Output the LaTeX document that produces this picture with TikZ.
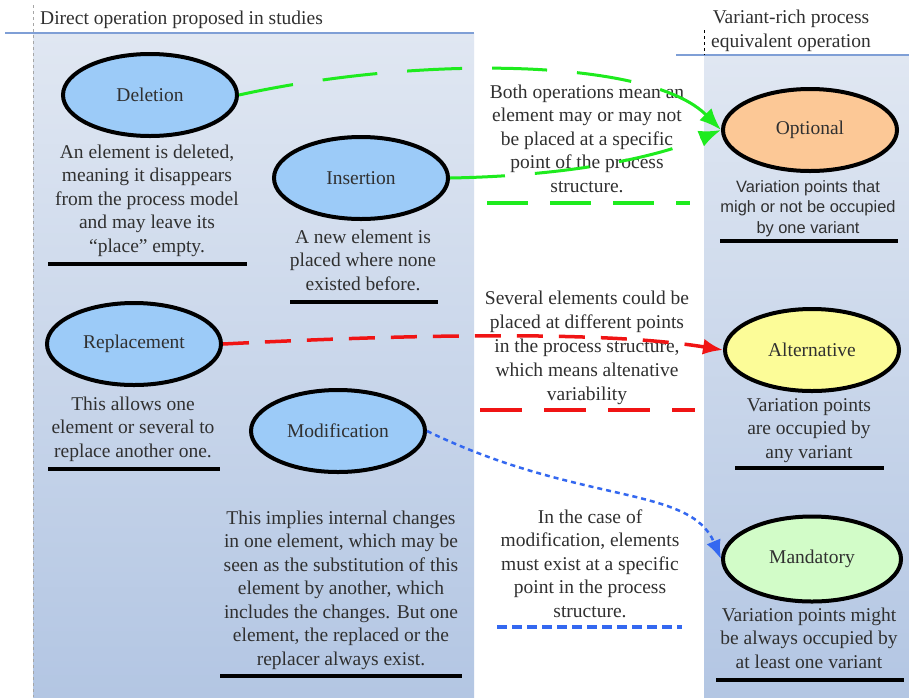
\documentclass[tikz,border=0pt]{standalone}
\usepackage{fontspec}
\setmainfont{Liberation Serif}
\newfontfamily\arialfont{Liberation Sans}
\usetikzlibrary{shapes.geometric,arrows.meta}
\definecolor{panTop}{HTML}{E0E7F2}
\definecolor{panBot}{HTML}{B3C6E3}
\definecolor{headrule}{HTML}{7F9FD6}
\definecolor{txt}{HTML}{303030}
\definecolor{opblue}{HTML}{9CCBF8}
\definecolor{opbrown}{HTML}{FCC896}
\definecolor{opyellow}{HTML}{FCFC98}
\definecolor{opgreen}{HTML}{D2FCC8}
\definecolor{lnGreen}{HTML}{1EEB1E}
\definecolor{lnRed}{HTML}{F01414}
\definecolor{lnBlue}{HTML}{3468F0}

\begin{document}
\begin{tikzpicture}
  [x=1pt,y=-1pt,
   every node/.style={text=txt,inner sep=0pt,font=\fontsize{19.5}{23.5}\selectfont},
   op/.style={ellipse,draw=black,line width=4pt,minimum width=174pt,minimum height=82pt},
   desc/.style={align=center,anchor=base},
   uline/.style={line width=4pt},
   greenflow/.style={draw=lnGreen,line width=3pt,dash pattern=on 55pt off 30pt,-{Latex[length=22pt,width=17pt]}},
   redflow/.style={draw=lnRed,line width=3.5pt,dash pattern=on 26pt off 16pt,-{Latex[length=20pt,width=16pt]}},
   blueflow/.style={draw=lnBlue,line width=2.5pt,dash pattern=on 5pt off 4pt,-{Latex[length=19pt,width=15pt]}}]
  \useasboundingbox (0,0) rectangle (909,697);
  \fill[white] (0,0) rectangle (909,697);

  % panels
  \shade[top color=panTop,bottom color=panBot] (33,33) rectangle (474,697);
  \shade[top color=panTop,bottom color=panBot] (704,55) rectangle (909,697);
  \draw[draw=headrule,line width=1.4pt] (5,33) -- (474,33);
  \draw[draw=headrule,line width=1.4pt] (676,55) -- (909,55);
  \draw[gray!70,dashed,line width=0.8pt] (33,5) -- (33,697);
  \draw[black,dashed,line width=0.8pt] (704,30) -- (704,55);

  % desc nodes sit on the baseline of their last line
  \node[anchor=base west] (lefthead) at (40,24) {Direct operation proposed in studies};
  \node[desc] (righthead) at (791,47) {Variant-rich process\\equivalent operation};

  % operations
  \node[op,fill=opblue] (del) at (150,95) {Deletion};
  \node[op,fill=opblue] (ins) at (361,178) {Insertion};
  \node[op,fill=opblue] (rep) at (134,344) {Replacement};
  \node[op,fill=opblue] (mod) at (338,431) {Modification};
  \node[op,fill=opbrown] (opt) at (810,130) {Optional};
  \node[op,fill=opyellow] (alt) at (812,350) {Alternative};
  \node[op,fill=opgreen,minimum width=178pt,minimum height=85pt] (man) at (812,559) {Mandatory};

  \node[desc] (deltxt) at (147,252) {An element is deleted,\\meaning it disappears\\from the process model\\and may leave its\\``place'' empty.};
  \node[desc] (instxt) at (363,290) {A new element is\\placed where none\\existed before.};
  \node[desc] (reptxt) at (133,457) {This allows one\\element or several to\\replace another one.};
  \node[desc] (modtxt) at (341,665) {This implies internal changes\\in one element, which may be\\seen as the substitution of this\\element by another, which\\includes the changes. But one\\element, the replaced or the\\replacer always exist.};

  \node[desc,font=\arialfont\fontsize{16.4}{20.5}\selectfont] (opttxt) at (808,233) {Variation points that\\migh or not be occupied\\by one variant};
  \node[desc] (alttxt) at (809,458) {Variation points\\are occupied by\\any variant};
  \node[desc] (mantxt) at (809,668) {Variation points might\\be always occupied by\\at least one variant};

  \node[desc] (bothtxt) at (587,192) {Both operations mean an\\element may or may not\\be placed at a specific\\point of the process\\structure.};
  \node[desc,font=\fontsize{19.5}{24}\selectfont] (sevtxt) at (587,400) {Several elements could be\\placed at different points\\in the process structure,\\which means altenative\\variability};
  \node[desc] (casetxt) at (590,617) {In the case of\\modification, elements\\must exist at a specific\\point in the process\\structure.};

  % underlines
  \foreach \xa/\xb/\yy in {48/247/264, 290/438/302, 48/220/469, 220/462/676, 720/898/241, 735/884/468, 716/904/680}
    \draw[uline] (\xa,\yy) -- (\xb,\yy);
  \draw[lnGreen,line width=4pt,dash pattern=on 41pt off 22pt] (487,203) -- (690,203);
  \draw[lnRed,line width=4.5pt,dash pattern=on 42pt off 22pt] (480,410) -- (695,410);
  \draw[lnBlue,line width=4pt,dash pattern=on 10pt off 5pt] (497,627) -- (682,627);

  % mappings
  \draw[greenflow] (del.east) .. controls (420,55) and (650,58) .. (opt.west);
  \draw[greenflow] (ins.east) .. controls (560,176) and (650,160) .. (opt.west);
  \draw[redflow] (rep.east) .. controls (400,335) and (600,330) .. (alt.west);
  \draw[blueflow] (mod.east) .. controls (580,505) and (690,485) .. (man.west);
\end{tikzpicture}
\end{document}
